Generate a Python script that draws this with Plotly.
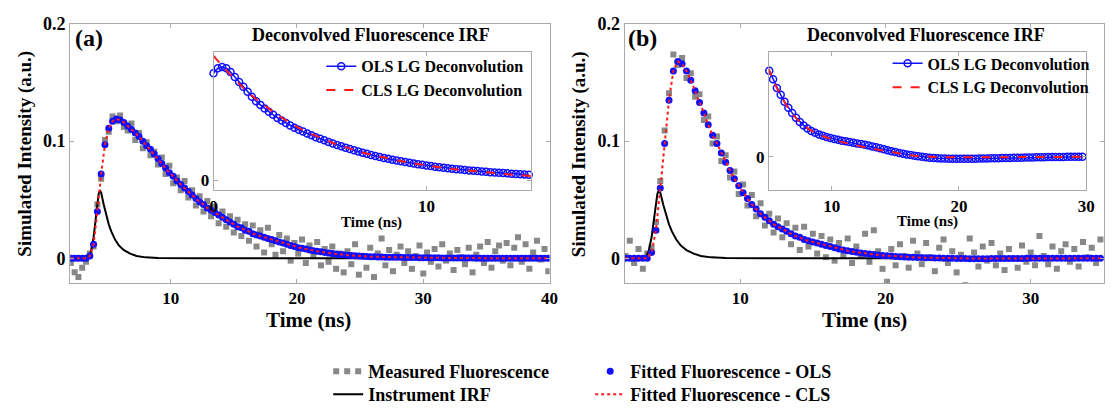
import numpy as np
import plotly.graph_objects as go

# ---------------- data ----------------
# main panels: time grid starts at 2.1 ns with a 0.3 ns step
T0_MAIN = 2.1
DT_MAIN = 0.3

fit_a = [
    0.000, 0.000, 0.000, 0.000, 0.000,
    0.002, 0.012, 0.040, 0.072, 0.097,
    0.111, 0.117, 0.119, 0.118, 0.116,
    0.113, 0.110, 0.107, 0.104, 0.100,
    0.096, 0.093, 0.089, 0.085, 0.081,
    0.077, 0.073, 0.070, 0.066, 0.063,
    0.060, 0.057, 0.054, 0.051, 0.048,
    0.046, 0.043, 0.041, 0.039, 0.037,
    0.035, 0.033, 0.031, 0.029, 0.027,
    0.026, 0.024, 0.023, 0.021, 0.020,
    0.019, 0.018, 0.017, 0.016, 0.015,
    0.014, 0.013, 0.012, 0.011, 0.010,
    0.0090, 0.0085, 0.0080, 0.0072, 0.0065,
    0.0060, 0.0055, 0.0050, 0.0045, 0.0040,
    0.0036, 0.0033, 0.0030, 0.0027, 0.0024,
    0.0022, 0.0020, 0.0018, 0.0016, 0.0014,
    0.0013, 0.0012, 0.0011, 0.0010, 0.0009,
    0.0009, 0.0008, 0.0008, 0.0007, 0.0007,
    0.0006, 0.0006, 0.0005, 0.0005, 0.0005,
    0.0004, 0.0004, 0.0004, 0.0003, 0.0003,
    0.0003, 0.0003, 0.0002, 0.0002, 0.0002,
    0.0002, 0.0002, 0.0001, 0.0001, 0.0001,
    0.0001, 0.0001, 0.0001, 0.0001, 0.0001,
    0.0000, 0.0000, 0.0000, 0.0000, 0.0000,
    0.0000, 0.0000, 0.0000, 0.0000, 0.0000,
    0.0000, 0.0000,
]

meas_a = [
    -0.004, -0.012, -0.016, -0.008, -0.003,
    0.004, 0.010, 0.046, 0.068, 0.101,
    0.108, 0.121, 0.117, 0.122, 0.112,
    0.109, 0.115, 0.101, 0.107, 0.094,
    0.099, 0.088, 0.091, 0.080, 0.086,
    0.072, 0.079, 0.064, 0.069, 0.058,
    0.066, 0.052, 0.058, 0.045, 0.053,
    0.040, 0.049, 0.036, 0.044, 0.030,
    0.040, 0.027, 0.036, 0.022, 0.033,
    0.019, 0.029, 0.015, 0.028, 0.010,
    0.024, 0.005, 0.026, 0.012, 0.003,
    0.020, 0.006, 0.017, -0.002, 0.013,
    0.004, 0.016, -0.004, 0.011, 0.002,
    0.014, -0.006, 0.008, -0.003, 0.010,
    -0.009, 0.004, -0.012, 0.006, -0.005,
    0.012, -0.014, 0.002, -0.008, 0.009,
    -0.016, 0.004, 0.017, -0.006, 0.007,
    -0.011, 0.003, 0.010, -0.004, 0.006,
    -0.009, 0.002, 0.011, -0.013, 0.005,
    -0.003, 0.008, -0.007, 0.012, -0.002,
    0.004, -0.010, 0.007, 0.001, -0.005,
    0.009, -0.012, 0.003, 0.010, -0.004,
    0.014, -0.008, 0.006, 0.011, -0.002,
    0.013, -0.006, 0.009, 0.018, -0.003,
    0.012, -0.009, 0.005, 0.015, -0.001,
    0.008, -0.011,
]

fit_b = [
    0.000, 0.000, 0.000, 0.000, 0.000,
    0.000, 0.005, 0.024, 0.060, 0.098,
    0.135, 0.160, 0.168, 0.166, 0.160,
    0.152, 0.143, 0.133, 0.124, 0.114,
    0.105, 0.098, 0.090, 0.082, 0.075,
    0.068, 0.062, 0.056, 0.051, 0.046,
    0.042, 0.038, 0.035, 0.032, 0.029,
    0.027, 0.025, 0.023, 0.021, 0.019,
    0.018, 0.016, 0.015, 0.014, 0.013,
    0.012, 0.011, 0.010, 0.009, 0.008,
    0.0072, 0.0065, 0.0058, 0.0052, 0.0046,
    0.0041, 0.0036, 0.0032, 0.0028, 0.0025,
    0.0022, 0.0019, 0.0016, 0.0014, 0.0012,
    0.0010, 0.0008, 0.0007, 0.0006, 0.0005,
    0.0004, 0.0003, 0.0002, 0.0001, 0.0000,
    0.0000, -0.0001, -0.0002, -0.0002, -0.0003,
    -0.0003, -0.0003, -0.0003, -0.0003, -0.0002,
    -0.0002, -0.0002, -0.0002, -0.0001, -0.0001,
    -0.0001, -0.0001, 0.0000, 0.0000, 0.0000,
    0.0000, 0.0000, 0.0000, 0.0000, 0.0000,
    0.0000, 0.0000, 0.0000, 0.0000, 0.0000,
    0.0000, 0.0000, 0.0000, 0.0000, 0.0000,
]

meas_b = [
    0.002, 0.015, -0.004, 0.008, -0.009,
    0.004, 0.009, 0.031, 0.066, 0.109,
    0.141, 0.174, 0.165, 0.171, 0.154,
    0.158, 0.138, 0.140, 0.118, 0.121,
    0.098, 0.104, 0.083, 0.088, 0.069,
    0.074, 0.055, 0.063, 0.045, 0.054,
    0.036, 0.047, 0.028, 0.038, 0.022,
    0.034, 0.018, 0.030, 0.012, 0.026,
    0.007, 0.027, 0.010, 0.021, 0.004,
    0.019, 0.001, 0.016, -0.002, 0.013,
    0.002, 0.017, -0.004, 0.010, 0.003,
    0.021, -0.003, 0.024, 0.006, -0.009,
    -0.020, 0.008, -0.006, 0.012, 0.002,
    -0.008, 0.015, 0.004, -0.005, 0.013,
    0.001, -0.011, 0.009, 0.016, -0.004,
    0.006, -0.012, 0.003, -0.023, 0.017,
    0.005, -0.007, 0.010, -0.002, 0.013,
    -0.006, 0.004, -0.010, 0.008, 0.000,
    -0.008, 0.011, -0.003, 0.005, -0.006,
    0.019, 0.002, -0.005, 0.010, -0.009,
    0.006, 0.012, -0.003, 0.008, -0.007,
    0.014, 0.001, 0.009, -0.004, 0.016,
]

irf_t = [2.1, 3.3, 3.5, 3.7, 3.9, 4.1, 4.3, 4.4, 4.5, 4.7, 4.9, 5.1, 5.3,
         5.6, 5.9, 6.3, 6.8, 7.3, 8.0, 9.0, 12.0, 20.0, 30.0, 40.0]
irf_v = [0.0, 0.0, 0.001, 0.006, 0.018, 0.038, 0.055, 0.058, 0.056, 0.046,
         0.037, 0.029, 0.023, 0.016, 0.011, 0.007, 0.004, 0.002, 0.0008,
         0.0002, 0.0, 0.0, 0.0, 0.0]

# insets: deconvolved fluorescence IRF (normalised units)
T0_OLS_A, DT_OLS_A = 0.0, 0.2
ols_a = [
    0.86, 0.90, 0.91, 0.90, 0.87,
    0.83, 0.79, 0.75, 0.71, 0.67,
    0.635, 0.605, 0.575, 0.55, 0.525,
    0.50, 0.48, 0.46, 0.44, 0.42,
    0.405, 0.39, 0.375, 0.36, 0.345,
    0.332, 0.32, 0.307, 0.295, 0.283,
    0.272, 0.261, 0.25, 0.24, 0.23,
    0.22, 0.211, 0.202, 0.194, 0.186,
    0.178, 0.171, 0.164, 0.157, 0.151,
    0.145, 0.139, 0.134, 0.128, 0.123,
    0.118, 0.113, 0.108, 0.104, 0.100,
    0.096, 0.092, 0.088, 0.085, 0.081,
    0.078, 0.075, 0.072, 0.069, 0.066,
    0.063, 0.061, 0.058, 0.056, 0.054,
    0.051, 0.049, 0.047, 0.045, 0.043,
]
T0_CLS_A, DT_CLS_A = 0.0, 0.5
cls_a = [1.00, 0.90, 0.81, 0.725, 0.65, 0.585, 0.525, 0.47, 0.42, 0.378,
         0.34, 0.305, 0.275, 0.247, 0.222, 0.20, 0.18, 0.162, 0.146, 0.131,
         0.117, 0.105, 0.094, 0.084, 0.075, 0.066, 0.058, 0.051, 0.044,
         0.038, 0.032]

T0_OLS_B, DT_OLS_B = 5.1, 0.3
ols_b = [
    1.00, 0.90, 0.80, 0.72, 0.64,
    0.57, 0.51, 0.455, 0.405, 0.365,
    0.33, 0.30, 0.28, 0.26, 0.245,
    0.23, 0.218, 0.207, 0.197, 0.188,
    0.18, 0.172, 0.164, 0.156, 0.148,
    0.139, 0.130, 0.120, 0.110, 0.099,
    0.088, 0.077, 0.066, 0.055, 0.045,
    0.036, 0.028, 0.020, 0.013, 0.006,
    0.0, -0.005, -0.010, -0.014, -0.017,
    -0.019, -0.021, -0.022, -0.023, -0.023,
    -0.023, -0.023, -0.023, -0.022, -0.022,
    -0.021, -0.020, -0.019, -0.018, -0.017,
    -0.016, -0.015, -0.014, -0.013, -0.012,
    -0.011, -0.010, -0.009, -0.008, -0.007,
    -0.006, -0.005, -0.004, -0.003, -0.002,
    -0.002, -0.001, -0.001, 0.000, 0.000,
    0.001, 0.001, 0.001,
]
T0_CLS_B, DT_CLS_B = 5.0, 0.5
cls_b = [1.04, 0.86, 0.71, 0.585, 0.485, 0.405, 0.345, 0.295, 0.258, 0.228,
         0.203, 0.182, 0.163, 0.146, 0.13, 0.115, 0.10, 0.086, 0.072, 0.058,
         0.045, 0.033, 0.022, 0.013, 0.006, 0.001,
         -0.002, -0.004, -0.005, -0.006, -0.006, -0.006, -0.006, -0.006,
         -0.005, -0.005, -0.005, -0.004, -0.004, -0.004, -0.003, -0.003,
         -0.003, -0.002, -0.002, -0.002, -0.001, -0.001, -0.001, 0.000, 0.000]

main_yticks = [0, 0.1, 0.2]
main_yticktext = ["0", "0.1", "0.2"]
xticks_a = [10, 20, 30, 40]
xticks_b = [10, 20, 30]
inset_xticks_a = [0, 10]
inset_xticks_b = [10, 20, 30]


def grid(t0, dt, vals):
    return np.round(t0 + dt * np.arange(len(vals)), 3)


# ---------------- styling ----------------
W, H = 1119, 413
FONT = "Liberation Serif"
GRAY = "#888888"
BLUE = "#1010ff"
RED = "#ff1a1a"
FRAME = "#a9a9a9"


def X(px):
    return px / W


def Y(py):
    return 1 - py / H


def f(size):
    return dict(family=FONT, size=size, color="black", weight="bold")


fig = go.Figure()

panels = [
    ("x", "y", fit_a, meas_a, True),
    ("x2", "y2", fit_b, meas_b, False),
]
for xa, ya, fit, meas, first in panels:
    fig.add_trace(go.Scatter(
        x=grid(T0_MAIN, DT_MAIN, meas), y=meas, mode="markers",
        marker=dict(symbol="square", size=6, color=GRAY),
        showlegend=False, xaxis=xa, yaxis=ya))
    if first:
        fig.add_trace(go.Scatter(
            x=[None], y=[None], mode="lines", name="Measured Fluorescence",
            line=dict(color=GRAY, width=6, dash="6px,5px"),
            legend="legend", xaxis=xa, yaxis=ya))
    fig.add_trace(go.Scatter(
        x=irf_t, y=irf_v, mode="lines", name="Instrument IRF",
        line=dict(color="black", width=2),
        showlegend=first, legend="legend2", xaxis=xa, yaxis=ya))
    fig.add_trace(go.Scatter(
        x=grid(T0_MAIN, DT_MAIN, fit), y=fit, mode="markers",
        name="Fitted Fluorescence - OLS",
        marker=dict(symbol="circle", size=7, color=BLUE),
        showlegend=first, legend="legend", xaxis=xa, yaxis=ya))
    fig.add_trace(go.Scatter(
        x=grid(T0_MAIN, DT_MAIN, fit), y=fit, mode="lines",
        name="Fitted Fluorescence - CLS",
        line=dict(color=RED, width=2, dash="dot"),
        showlegend=first, legend="legend2", xaxis=xa, yaxis=ya))

insets = [
    ("x3", "y3", T0_OLS_A, DT_OLS_A, ols_a, T0_CLS_A, DT_CLS_A, cls_a, "legend3"),
    ("x4", "y4", T0_OLS_B, DT_OLS_B, ols_b, T0_CLS_B, DT_CLS_B, cls_b, "legend4"),
]
for xa, ya, to, do, ols, tc, dc, cls, lg in insets:
    fig.add_trace(go.Scatter(
        x=grid(to, do, ols), y=ols, mode="lines+markers",
        name="OLS LG Deconvolution",
        line=dict(color=BLUE, width=1.5),
        marker=dict(symbol="circle-open", size=7, color=BLUE,
                    line=dict(width=1.5, color=BLUE)),
        cliponaxis=False, legend=lg, xaxis=xa, yaxis=ya))
    fig.add_trace(go.Scatter(
        x=grid(tc, dc, cls), y=cls, mode="lines",
        name="CLS LG Deconvolution",
        line=dict(color=RED, width=2, dash="dash"),
        legend=lg, xaxis=xa, yaxis=ya))

axis_common = dict(showline=True, linecolor=FRAME, linewidth=1, mirror="ticks",
                   ticks="inside", ticklen=4, tickcolor=FRAME, showgrid=False,
                   zeroline=False)

main_y = dict(domain=[Y(292), Y(15)], range=[-0.021, 0.2],
              tickvals=main_yticks, ticktext=main_yticktext,
              tickfont=f(18), **axis_common)

fig.update_layout(
    width=W, height=H, margin=dict(l=0, r=0, t=0, b=0),
    paper_bgcolor="white", plot_bgcolor="white",
    font=f(16),
    xaxis=dict(domain=[X(67), X(552)], range=[2.05, 40], anchor="y",
               tickvals=xticks_a, tickfont=f(17), **axis_common),
    yaxis=dict(anchor="x", **main_y),
    xaxis2=dict(domain=[X(628), X(1113)], range=[2.05, 35.05], anchor="y2",
                tickvals=xticks_b, tickfont=f(17), **axis_common),
    yaxis2=dict(anchor="x2", **main_y),
    xaxis3=dict(domain=[X(212), X(533)], range=[0, 14.9], anchor="y3",
                tickvals=inset_xticks_a, tickfont=f(17), **axis_common),
    yaxis3=dict(domain=[Y(193), Y(45)], range=[-0.083, 1.03], anchor="x3",
                tickvals=[0], tickfont=f(17), **axis_common),
    xaxis4=dict(domain=[X(774), X(1095)], range=[5.08, 30], anchor="y4",
                tickvals=inset_xticks_b, tickfont=f(17), **axis_common),
    yaxis4=dict(domain=[Y(193), Y(45)], range=[-0.39, 1.217], anchor="x4",
                tickvals=[0], tickfont=f(17), **axis_common),
    legend=dict(orientation="h", x=X(328), y=Y(367), xanchor="left",
                yanchor="top", entrywidth=217, entrywidthmode="pixels",
                font=f(18), bgcolor="rgba(0,0,0,0)", traceorder="normal"),
    legend2=dict(orientation="h", x=X(328), y=Y(392), xanchor="left",
                 yanchor="top", entrywidth=217, entrywidthmode="pixels",
                 font=f(18), bgcolor="rgba(0,0,0,0)", traceorder="normal"),
    legend3=dict(x=X(321), y=Y(42), xanchor="left", yanchor="top",
                 font=f(16), bgcolor="rgba(0,0,0,0)", tracegroupgap=0),
    legend4=dict(x=X(894), y=Y(39), xanchor="left", yanchor="top",
                 font=f(16), bgcolor="rgba(0,0,0,0)", tracegroupgap=0),
)

# zero reference lines in the insets
for xr, yr in [("x3", "y3"), ("x4", "y4")]:
    fig.add_shape(type="line", xref=f"{xr} domain", yref=yr, x0=0, x1=1,
                  y0=0, y1=0, line=dict(color="black", width=1.5, dash="dash"),
                  layer="below")

ann = [
    ("Time (ns)", 308, 332, 21, 0),
    ("Time (ns)", 871, 332, 21, 0),
    ("Simulated Intensity (a.u.)", 21, 154, 19, -90),
    ("Simulated Intensity (a.u.)", 582, 154, 19, -90),
    ("(a)", 86, 30, 24, 0),
    ("(b)", 646, 30, 24, 0),
    ("Deconvolved Fluorescence IRF", 371, 27, 18, 0),
    ("Deconvolved Fluorescence IRF", 933, 27, 18, 0),
    ("Time (ns)", 372, 227, 15, 0),
    ("Time (ns)", 934, 226, 15, 0),
]
for text, px, py, size, rot in ann:
    fig.add_annotation(text=text, x=X(px), y=Y(py), xref="paper", yref="paper",
                       showarrow=False, font=f(size), textangle=rot,
                       xanchor="center", yanchor="middle")

fig.write_html("out.html")
